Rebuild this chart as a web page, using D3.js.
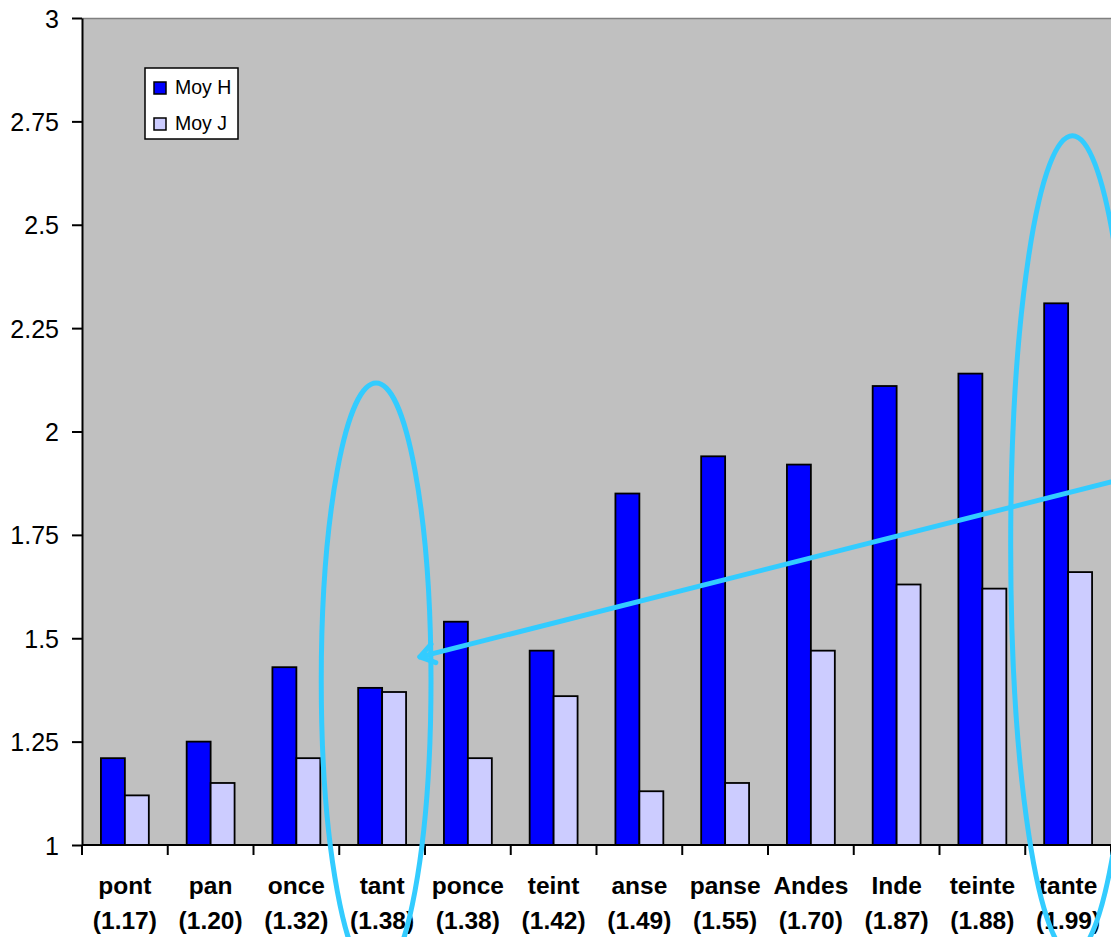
<!DOCTYPE html>
<html>
<head>
<meta charset="utf-8">
<script src="https://cdn.jsdelivr.net/npm/d3@7"></script>
<style>
  html, body { margin: 0; padding: 0; background: #ffffff; }
  svg { display: block; }
  text { font-family: "Liberation Sans", Arial, sans-serif; }
</style>
</head>
<body>
<svg id="chart" width="1111" height="937"></svg>
<script>
// Words with their mean score shown under each group
const words  = ["pont", "pan", "once", "tant", "ponce", "teint", "anse", "panse", "Andes", "Inde", "teinte", "tante"];
const scores = ["(1.17)", "(1.20)", "(1.32)", "(1.38)", "(1.38)", "(1.42)", "(1.49)", "(1.55)", "(1.70)", "(1.87)", "(1.88)", "(1.99)"];

// Series
const seriesNames = ["Moy H", "Moy J"];
const moyH = [1.21, 1.25, 1.43, 1.38, 1.54, 1.47, 1.85, 1.94, 1.92, 2.11, 2.14, 2.31];
const moyJ = [1.12, 1.15, 1.21, 1.37, 1.21, 1.36, 1.13, 1.15, 1.47, 1.63, 1.62, 1.66];
const seriesColors = ["#0000FF", "#CCCCFF"];

// Y axis ticks
const yTicks = [1, 1.25, 1.5, 1.75, 2, 2.25, 2.5, 2.75, 3];
const yTickLabels = ["1", "1.25", "1.5", "1.75", "2", "2.25", "2.5", "2.75", "3"];

// Highlight ellipses (category-index units horizontally, value units vertically)
const ellipses = [
  { cx: 3.43, cy: 1.397, rx: 0.64, ry: 0.72 },
  { cx: 11.55, cy: 1.7255, rx: 0.72, ry: 0.99 }
];
// Arrow from the right edge back to "tant"
const arrowFrom = { i: 12.0, v: 1.878 };
const arrowTo   = { i: 3.94, v: 1.455 };

const svg = d3.select("#chart");
const plotL = 82, plotR = 1111, plotT = 18, plotB = 845;

const x0 = d3.scaleBand().domain(words).range([plotL, plotR]).padding(0);
const x1 = d3.scaleBand().domain(seriesNames).range([0, x0.bandwidth()])
  .paddingInner(0).paddingOuter(0.79);
const xi = d3.scaleLinear().domain([0, words.length]).range([plotL, plotR]);
const y = d3.scaleLinear().domain([1, 3]).range([plotB, plotT]);

// Plot background
svg.append("rect")
  .attr("x", plotL).attr("y", plotT)
  .attr("width", plotR - plotL).attr("height", plotB - plotT)
  .attr("fill", "#C0C0C0");
svg.append("line")
  .attr("x1", plotL).attr("x2", plotR).attr("y1", plotT + 0.5).attr("y2", plotT + 0.5)
  .attr("stroke", "#808080").attr("stroke-width", 1.5);

// Bars
const rows = words.map((w, i) => ({ w, vals: [moyH[i], moyJ[i]] }));
const groups = svg.append("g").selectAll("g").data(rows).join("g")
  .attr("transform", d => `translate(${x0(d.w)},0)`);
groups.selectAll("rect")
  .data(d => d.vals.map((v, k) => ({ v, k })))
  .join("rect")
  .attr("x", d => x1(seriesNames[d.k]))
  .attr("width", x1.bandwidth())
  .attr("y", d => y(d.v))
  .attr("height", d => y(1) - y(d.v))
  .attr("fill", d => seriesColors[d.k])
  .attr("stroke", "#000")
  .attr("stroke-width", 1.8);

// Y axis
const yAxis = d3.axisLeft(y).tickValues(yTicks)
  .tickFormat((d, i) => yTickLabels[i]).tickSize(10).tickSizeOuter(0).tickPadding(13);
const gy = svg.append("g").attr("transform", `translate(${plotL},0)`).call(yAxis);
gy.attr("font-size", null).attr("font-family", null);
gy.select(".domain").attr("stroke", "#000").attr("stroke-width", 2);
gy.selectAll(".tick line").attr("stroke", "#000").attr("stroke-width", 2);
gy.selectAll(".tick text")
  .attr("fill", "#000")
  .attr("dy", "0.36em")
  .style("font-size", "25px");

// X axis with ticks at category boundaries
const gx = svg.append("g").attr("transform", `translate(0,${plotB})`);
gx.append("line").attr("x1", plotL).attr("x2", plotR).attr("y1", 0).attr("y2", 0)
  .attr("stroke", "#000").attr("stroke-width", 2);
gx.selectAll("line.tk").data(d3.range(words.length + 1)).join("line")
  .attr("class", "tk")
  .attr("x1", d => xi(d)).attr("x2", d => xi(d))
  .attr("y1", 0).attr("y2", 10)
  .attr("stroke", "#000").attr("stroke-width", 2);

// Category labels (two lines)
const lab = svg.append("g");
lab.selectAll("text.w").data(words).join("text")
  .attr("class", "w")
  .attr("x", d => x0(d) + x0.bandwidth() / 2)
  .attr("y", 894)
  .attr("text-anchor", "middle")
  .style("font-size", "24.5px").style("font-weight", "bold")
  .text(d => d);
lab.selectAll("text.s").data(scores).join("text")
  .attr("class", "s")
  .attr("x", (d, i) => x0(words[i]) + x0.bandwidth() / 2)
  .attr("y", 929)
  .attr("text-anchor", "middle")
  .style("font-size", "24.5px").style("font-weight", "bold")
  .text(d => d);

// Legend
const lg = svg.append("g").attr("transform", "translate(145,68)");
lg.append("rect").attr("width", 93).attr("height", 71)
  .attr("fill", "#fff").attr("stroke", "#000").attr("stroke-width", 1.5);
seriesNames.forEach((s, k) => {
  lg.append("rect").attr("x", 9).attr("y", 14 + k * 36).attr("width", 12).attr("height", 12)
    .attr("fill", seriesColors[k]).attr("stroke", "#000").attr("stroke-width", 1.5);
  lg.append("text").attr("x", 30).attr("y", 26 + k * 36)
    .style("font-size", "19.5px").text(s);
});

// Highlight annotations
const ann = svg.append("g").attr("fill", "none").attr("stroke", "#33CCFF")
  .attr("stroke-width", 5).attr("stroke-linecap", "round");
ann.selectAll("ellipse").data(ellipses).join("ellipse")
  .attr("cx", d => xi(d.cx))
  .attr("cy", d => y(d.cy))
  .attr("rx", d => xi(d.rx) - xi(0))
  .attr("ry", d => y(1) - y(1 + d.ry));

const ax1 = xi(arrowFrom.i), ay1 = y(arrowFrom.v);
const ax2 = xi(arrowTo.i), ay2 = y(arrowTo.v);
ann.append("line").attr("x1", ax1).attr("y1", ay1).attr("x2", ax2).attr("y2", ay2);
const ang = Math.atan2(ay1 - ay2, ax1 - ax2);
const headLen = 17, headSpread = 0.6;
ann.append("path")
  .attr("d", `M${ax2 + headLen * Math.cos(ang - headSpread)},${ay2 + headLen * Math.sin(ang - headSpread)}` +
             `L${ax2},${ay2}` +
             `L${ax2 + headLen * Math.cos(ang + headSpread)},${ay2 + headLen * Math.sin(ang + headSpread)}`)
  .attr("stroke-linejoin", "round");
</script>
</body>
</html>
